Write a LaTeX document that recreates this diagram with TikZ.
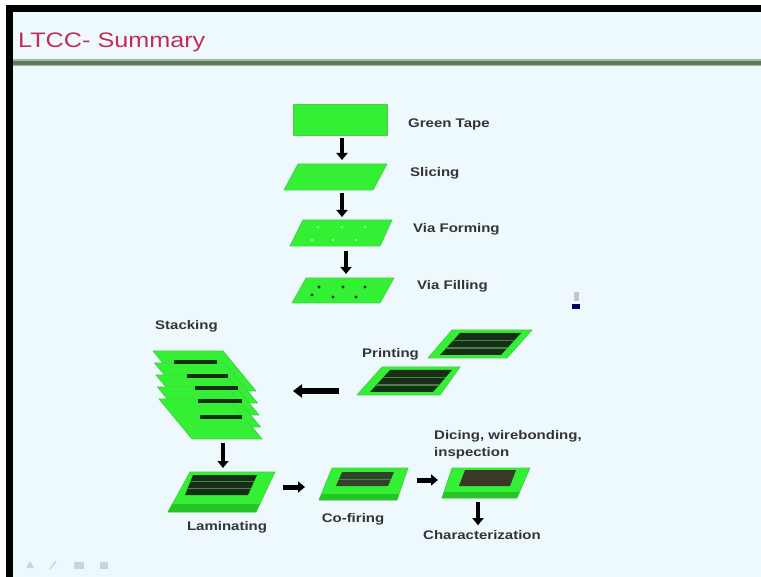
\documentclass[tikz,border=0pt]{standalone}
\usepackage{fontspec}
\newfontfamily\lblfont[FakeStretch=1.2]{Liberation Sans}
\usetikzlibrary{arrows.meta}

\definecolor{slidebg}{RGB}{237,249,252}
\definecolor{tapegreen}{RGB}{52,240,52}
\definecolor{tapeedge}{RGB}{72,205,72}
\definecolor{slabshade}{RGB}{38,196,38}
\definecolor{inkdark}{RGB}{22,46,22}
\definecolor{inkolive}{RGB}{48,66,44}
\definecolor{inkbrown}{RGB}{58,56,40}
\definecolor{sepgreen}{RGB}{72,130,72}
\definecolor{labelgray}{RGB}{52,52,52}
\definecolor{titlered}{RGB}{196,44,84}
\definecolor{rulegreen}{RGB}{92,124,92}
\definecolor{holelight}{RGB}{150,255,150}
\definecolor{iconfaint}{RGB}{200,214,218}

\tikzset{
  sheet/.style={fill=tapegreen, draw=tapeedge, line width=0.7pt, line join=round},
  hotspot/.style={inner sep=0pt, outer sep=0pt},
  lbl/.style={font=\lblfont\bfseries\fontsize{12.5}{17.5}\selectfont, text=labelgray, inner sep=0pt},
  flow/.style={draw=black, line width=4pt, -{Triangle[width=11pt,length=7pt]}},
  flowwide/.style={draw=black, line width=5.5pt, -{Triangle[width=13pt,length=9pt]}},
  sepline/.style={draw=sepgreen, line width=1.3pt},
}

\begin{document}
\begin{tikzpicture}[x=1pt,y=-1pt]
  % slide background and frame
  \fill[white] (0,0) rectangle (761,577);
  \useasboundingbox (0,0) rectangle (761,577);
  \fill[slidebg] (12,12) rectangle (761,577);
  \fill[black] (6,5) rectangle (761,12);
  \fill[black] (6,5) rectangle (13,577);

  % title bar
  \node[anchor=west, inner sep=0pt, text=titlered,
        font=\lblfont\fontsize{21}{24}\selectfont] (title) at (18,42) {LTCC- Summary};
  \draw[rulegreen!55!white, line width=7pt] (13,63) -- (761,63);
  \draw[rulegreen, line width=4.5pt] (13,63) -- (761,63);

  % green tape
  \node[sheet, minimum width=94pt, minimum height=31pt] (tape) at (340,119.5) {};

  % slicing
  \path[sheet] (284,190) -- (373,190) -- (387,164) -- (298,164) -- cycle;
  \node[hotspot, minimum width=103pt, minimum height=26pt] (slice) at (335.5,177) {};

  % via forming
  \path[sheet] (290,246) -- (380,246) -- (392,220) -- (303,220) -- cycle;
  \foreach \hx/\hy in {318/227,342/227,365/227,312/240,333/240,356/240}
    \fill[holelight] (\hx,\hy) circle (1.4);
  \node[hotspot, minimum width=102pt, minimum height=26pt] (viaform) at (341,233) {};

  % via filling
  \path[sheet] (292,303) -- (380,303) -- (394,278) -- (306,278) -- cycle;
  \foreach \hx/\hy in {319/287,343/287,365/287,312/295,333/297,356/297}
    \fill[inkdark] (\hx,\hy) circle (1.7);
  \node[hotspot, minimum width=104pt, minimum height=25pt] (viafill) at (342,290.5) {};

  % printed sheets
  \path[sheet] (428,358) -- (507,358) -- (532,330) -- (452,330) -- cycle;
  \begin{scope}
    \clip (440,355) -- (501,355) -- (521,333) -- (460,333) -- cycle;
    \fill[inkdark] (430,330) rectangle (530,360);
    \draw[sepline] (430,340.5) -- (530,340.5);
    \draw[sepline] (430,348) -- (530,348);
  \end{scope}
  \node[hotspot, minimum width=104pt, minimum height=28pt] (printA) at (480,344) {};

  \path[sheet] (357,395) -- (440,395) -- (460,367) -- (382,367) -- cycle;
  \begin{scope}
    \clip (370,392) -- (433,392) -- (452,370) -- (390,370) -- cycle;
    \fill[inkdark] (360,365) rectangle (460,395);
    \draw[sepline] (360,377.5) -- (460,377.5);
    \draw[sepline] (360,385) -- (460,385);
  \end{scope}
  \node[hotspot, minimum width=103pt, minimum height=28pt] (printB) at (408.5,381) {};

  % stacked sheets
  \foreach \i in {0,...,4} {
    \pgfmathsetmacro\sx{153+1.5*\i}
    \pgfmathsetmacro\sy{351+12*\i}
    \path[sheet] (\sx,\sy) -- ++(70,0) -- ++(33,40) -- ++(-70,0) -- cycle;
  }
  \foreach \xa/\xb/\by in {174/217/362,187/228/376,195/238/388,198/242/401,200/242/417}
    \draw[inkdark, line width=3.5pt] (\xa,\by) -- (\xb,\by);
  \node[hotspot, minimum width=109pt, minimum height=88pt] (stack) at (207.5,395) {};

  % laminated block
  \path[sheet] (190,472) -- (275,472) -- (256,512) -- (168,512) -- cycle;
  \begin{scope}
    \clip (190,472) -- (275,472) -- (256,512) -- (168,512) -- cycle;
    \fill[slabshade] (150,504) rectangle (290,515);
  \end{scope}
  \begin{scope}
    \clip (193,475) -- (257,475) -- (248,495) -- (185,495) -- cycle;
    \fill[inkdark] (180,470) rectangle (260,500);
    \draw[sepline] (180,481.5) -- (260,481.5);
    \draw[sepline] (180,488.5) -- (260,488.5);
  \end{scope}
  \node[hotspot, minimum width=107pt, minimum height=40pt] (lam) at (221.5,492) {};

  % co-fired block
  \path[sheet] (332,468) -- (408,468) -- (397,500) -- (319,500) -- cycle;
  \begin{scope}
    \clip (332,468) -- (408,468) -- (397,500) -- (319,500) -- cycle;
    \fill[slabshade] (310,494) rectangle (420,503);
  \end{scope}
  \begin{scope}
    \clip (342,472) -- (394,472) -- (388,486) -- (336,486) -- cycle;
    \fill[inkolive] (330,470) rectangle (400,490);
    \draw[sepline, line width=1pt] (330,479) -- (400,479);
  \end{scope}
  \node[hotspot, minimum width=89pt, minimum height=32pt] (cofire) at (363.5,484) {};

  % diced part
  \path[sheet] (452,468) -- (530,468) -- (517,498) -- (442,498) -- cycle;
  \begin{scope}
    \clip (452,468) -- (530,468) -- (517,498) -- (442,498) -- cycle;
    \fill[slabshade] (435,492) rectangle (540,501);
  \end{scope}
  \fill[inkbrown] (465,470) -- (516,470) -- (510,486) -- (459,486) -- cycle;
  \node[hotspot, minimum width=88pt, minimum height=30pt] (dice) at (486,483) {};

  % labels
  \node[lbl, anchor=west] (ltape) at (408,124) {Green Tape};
  \node[lbl, anchor=west] (lslice) at (410,173) {Slicing};
  \node[lbl, anchor=west] (lform) at (413,229) {Via Forming};
  \node[lbl, anchor=west] (lfill) at (417,286) {Via Filling};
  \node[lbl, anchor=west] (lstack) at (155,326) {Stacking};
  \node[lbl, anchor=west] (lprint) at (362,354) {Printing};
  \node[lbl, anchor=north west, align=left] (ldice) at (434,430)
       {Dicing, wirebonding,\\inspection};
  \node[lbl] (llam) at (227,527) {Laminating};
  \node[lbl] (lcofire) at (353,519) {Co-firing};
  \node[lbl] (charz) at (482,535) {Characterization};

  % process flow arrows
  \coordinate (a1) at ([xshift=2pt]tape.south);
  \draw[flow, shorten <=3pt, shorten >=4pt] (a1) -- (a1 |- slice.north);
  \coordinate (a2) at ([xshift=6.5pt]slice.south);
  \draw[flow, shorten <=3pt, shorten >=3pt] (a2) -- (a2 |- viaform.north);
  \coordinate (a3) at ([xshift=5pt]viaform.south);
  \draw[flow, shorten <=5pt, shorten >=4pt] (a3) -- (a3 |- viafill.north);
  \coordinate (a4) at ([yshift=-10pt]printB.west);
  \draw[flowwide, shorten <=18pt, shorten >=31pt] (a4) -- (a4 -| stack.east);
  \coordinate (a5) at ([xshift=15.5pt]stack.south);
  \draw[flow, shorten <=4pt, shorten >=4pt] (a5) -- (a5 |- lam.north);
  \coordinate (a6) at ([yshift=5pt]lam.east);
  \draw[flow, line width=5pt, shorten <=8pt, shorten >=14pt] (a6) -- (a6 -| cofire.west);
  \coordinate (a7) at ([yshift=4pt]cofire.east);
  \draw[flow, line width=5pt, shorten <=9pt, shorten >=4pt] (a7) -- (a7 -| dice.west);
  \coordinate (a8) at ([xshift=-8pt]dice.south);
  \draw[flow, shorten <=4pt, shorten >=5pt] (a8) -- (a8 |- charz.north);

  % mouse pointer
  \fill[gray!45] (574,292) rectangle (579,301);
  \fill[black!60!blue] (572,304) rectangle (580,309);

  % faint slide controls
  \fill[iconfaint] (26,568) -- (30,561) -- (34,568) -- cycle;
  \draw[iconfaint, line width=1.5pt] (50,569) -- (56,561);
  \fill[iconfaint] (74,562) rectangle (84,569);
  \fill[iconfaint] (100,562) rectangle (108,569);
\end{tikzpicture}
\end{document}
